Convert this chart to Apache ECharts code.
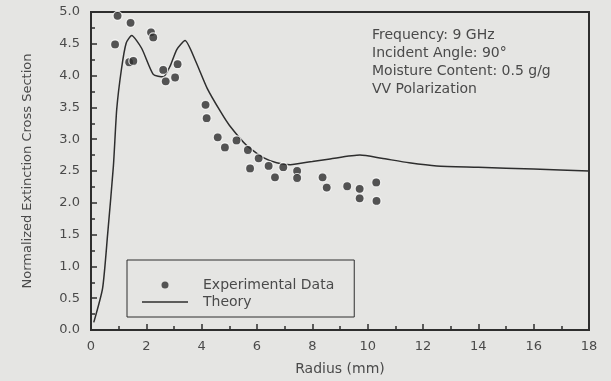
<!DOCTYPE html>
<html>
<head>
    <meta charset="utf-8">
    <title></title>
    <script src="https://cdn.jsdelivr.net/npm/echarts@6/dist/echarts.min.js"></script>
</head>
<body style="margin:0;background:#e5e5e3;">
    <div id="main" style="width: 611px;height:381px;"></div>
    <script type="text/javascript">
var myChart = echarts.init(document.getElementById('main'));

// measured points (radius mm, normalized extinction)
var expRadius = [0.87, 0.96, 1.38, 1.43, 1.53, 2.17, 2.25, 2.61, 2.70, 3.04, 3.13, 4.14, 4.18, 4.58, 4.84, 5.26, 5.67, 5.75, 6.06, 6.42, 6.65, 6.95, 7.45, 7.45, 8.37, 8.52, 9.26, 9.71, 9.71, 10.31, 10.32]
var expValue = [4.49, 4.94, 4.21, 4.83, 4.23, 4.68, 4.60, 4.09, 3.91, 3.97, 4.18, 3.54, 3.33, 3.03, 2.87, 2.98, 2.83, 2.54, 2.70, 2.58, 2.40, 2.56, 2.50, 2.39, 2.40, 2.24, 2.26, 2.22, 2.07, 2.32, 2.03]

// theory curve
var thRadius = [0.1, 0.42, 0.6, 0.81, 0.93, 1.1, 1.27, 1.47, 1.83, 2.25, 2.61, 2.86, 3.1, 3.4, 3.76, 4.2, 4.7, 5.0, 5.63, 6.23, 6.71, 7.2, 8.0, 8.64, 9.72, 10.5, 11.5, 12.5, 14, 16, 18]
var thValue = [0.12, 0.66, 1.5, 2.58, 3.47, 4.1, 4.51, 4.63, 4.43, 4.02, 3.98, 4.15, 4.41, 4.55, 4.25, 3.8, 3.42, 3.22, 2.9, 2.71, 2.63, 2.6, 2.65, 2.69, 2.75, 2.7, 2.63, 2.58, 2.56, 2.53, 2.5]

var notes = ['Frequency: 9 GHz', 'Incident Angle: 90°', 'Moisture Content: 0.5 g/g', 'VV Polarization']

var expData = expRadius.map(function (r, i) { return [r, expValue[i]] })
var thData = thRadius.map(function (r, i) { return [r, thValue[i]] })

var ink = '#2e2e2e'
var txt = '#4a4a4a'
var font = 'DejaVu Sans'

option = {
  grid: { left: 91, right: 22, top: 12, bottom: 49, show: true, borderColor: ink, borderWidth: 2 },
  legend: {
    orient: 'vertical',
    left: 127,
    top: 260,
    padding: [18, 20, 8, 15],
    itemGap: 3,
    itemWidth: 46,
    itemHeight: 7,
    borderColor: ink,
    borderWidth: 1,
    textStyle: { color: txt, fontSize: 14, fontFamily: font, padding: [0, 0, 0, 10] },
    data: [
      { name: 'Experimental Data', icon: 'circle', itemStyle: { borderWidth: 0 } },
      { name: 'Theory', icon: 'path://M0 0 H46 V1.5 H0 Z' }
    ]
  },
  graphic: [{
    type: 'text',
    left: 372,
    top: 26,
    style: {
      text: notes.join('\n'),
      fill: txt,
      font: '14px "DejaVu Sans"',
      lineHeight: 18
    }
  }],
  xAxis: {
    type: 'value',
    min: 0, max: 18, interval: 2,
    name: 'Radius (mm)',
    nameLocation: 'middle',
    nameGap: 32,
    nameTextStyle: { color: txt, fontSize: 14, fontFamily: font },
    axisLine: { show: true, lineStyle: { color: ink, width: 2 } },
    axisTick: { show: true, inside: true, length: 6, lineStyle: { color: ink, width: 1.5 } },
    minorTick: { show: true, splitNumber: 2, length: 4, lineStyle: { color: ink, width: 1.5 } },
    axisLabel: { color: txt, fontSize: 13, fontFamily: font, margin: 10 },
    splitLine: { show: false }
  },
  yAxis: {
    type: 'value',
    min: 0, max: 5, interval: 0.5,
    name: 'Normalized Extinction Cross Section',
    nameLocation: 'middle',
    nameGap: 57,
    nameTextStyle: { color: txt, fontSize: 13, fontFamily: font },
    axisLine: { show: true, lineStyle: { color: ink, width: 2 } },
    axisTick: { show: true, inside: true, length: 6, lineStyle: { color: ink, width: 1.5 } },
    minorTick: { show: true, splitNumber: 2, length: 4, lineStyle: { color: ink, width: 1.5 } },
    axisLabel: { color: txt, fontSize: 13, fontFamily: font, margin: 11,
      formatter: function (v) { return v.toFixed(1) } },
    splitLine: { show: false }
  },
  series: [{
    name: 'Experimental Data',
    type: 'scatter',
    data: expData,
    symbolSize: 9,
    itemStyle: { color: ink, borderColor: '#fff', borderWidth: 1.2 },
    z: 3
  }, {
    name: 'Theory',
    type: 'line',
    data: thData,
    symbol: 'none',
    smooth: 0.2,
    lineStyle: { color: ink, width: 1.5 },
    itemStyle: { color: ink }
  }]
}
myChart.setOption(option);
    </script>
</body>
</html>
